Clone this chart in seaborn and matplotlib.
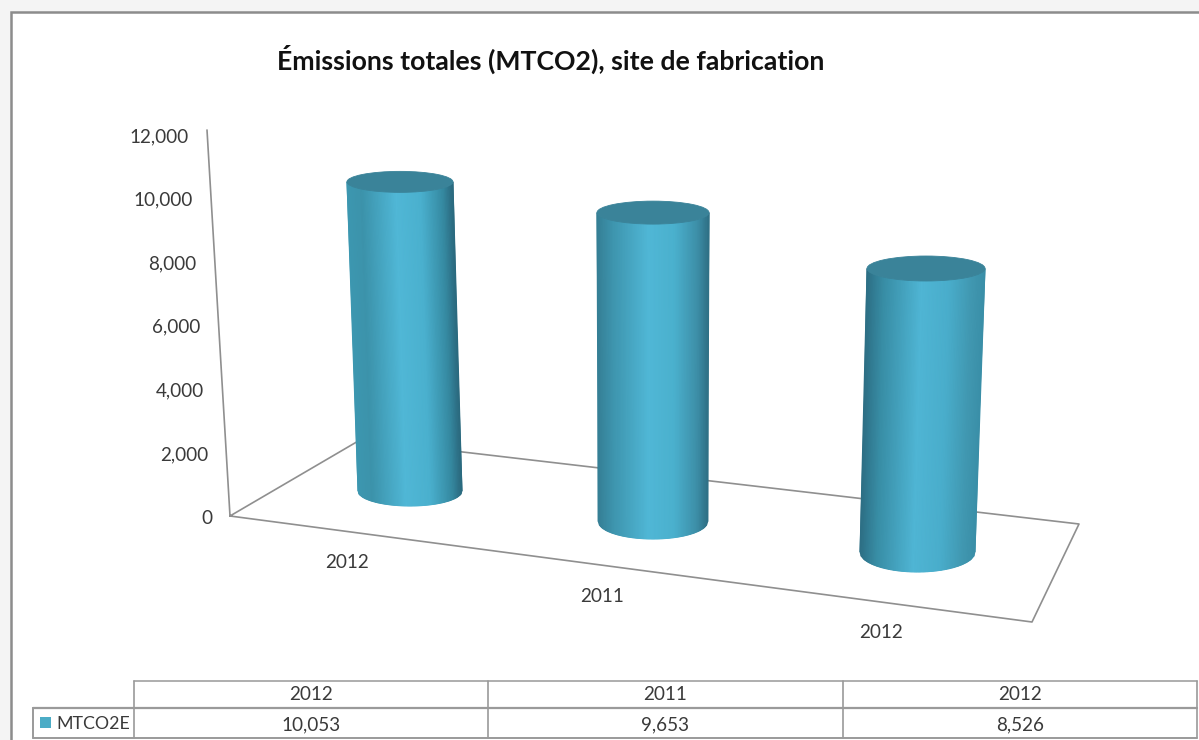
import numpy as np
import pandas as pd
import seaborn as sns
import matplotlib.pyplot as plt
from matplotlib.colors import LinearSegmentedColormap
from matplotlib.patches import Ellipse, Rectangle

plt.switch_backend('Agg')

# values
categories = ["2012", "2011", "2012"]
series_name = "MTCO2E"
values = [10053, 9653, 8526]
y_ticks = [0, 2000, 4000, 6000, 8000, 10000, 12000]
title = "Émissions totales (MTCO2), site de fabrication"

sns.set_theme(style="white")
plt.rcParams['font.family'] = ['Lato', 'DejaVu Sans']

TEXT = "#3a3a3a"
LINE = "#8f8f8f"


# fake 3D: category position and value -> picture pixels
def base_point(u):
    return np.array([410 + 232.25 * u + 10.75 * u * u, 491 + 30.5 * u])


def project(u, v):
    bx, by = base_point(u)
    return bx + 0.001 * (u - 1) * v, by - (0.03075 + 0.00125 * u) * v


def wall_point(v):
    t = v / 12000
    return 230 - 23 * t, 516 - 386 * t


fig = plt.figure(figsize=(11.99, 7.40), dpi=100)

# the bars come from seaborn on a hidden axes, then get redrawn as cylinders
ax_bar = fig.add_axes([0, 0, 1, 1])
df = pd.DataFrame({"pos": range(len(values)), "value": values})
sns.barplot(data=df, x="pos", y="value", width=0.8, ax=ax_bar)
bars = list(ax_bar.patches)
ax_bar.set_visible(False)

ax = fig.add_axes([0, 0, 1, 1])
ax.set_xlim(0, 1199)
ax.set_ylim(740, 0)
ax.axis("off")

# outer window shading and chart frame
fig.patch.set_facecolor("#f4f4f4")
ax.add_patch(Rectangle((11, 12), 1300, 800, fc="white", ec="#8c8c8c", lw=1.8, zorder=1))

# floor and wall
floor_x = [207, 230, 1032, 1079, 360, 230]
floor_y = [130, 516, 622, 524, 440, 516]
ax.plot(floor_x, floor_y, color=LINE, lw=1.2, zorder=2)

# value axis labels
for t in y_ticks:
    wx, wy = wall_point(t)
    ax.text(wx - 18, 516 - 63.6 * t / 2000 + 2, f"{t:,}", ha="right", va="center",
            fontsize=13.6, color=TEXT, zorder=3)

# category labels under the floor
label_x = [347, 602, 881]
label_y = [563, 597, 633]
for x, y, c in zip(label_x, label_y, categories):
    ax.text(x, y, c, ha="center", va="center", fontsize=13.6, color=TEXT, zorder=3)

# cylinders
stops = [0, 0.14, 0.46, 0.70, 0.90, 1]
shades = [
    ["#3c97b0", "#3c93ab", "#50b7d6", "#4ab0ce", "#368ba3", "#2b6a7f"],
    ["#357f95", "#3e95ae", "#50b7d6", "#4ab0cd", "#3d8fa8", "#2f7186"],
    ["#2d6f85", "#388da5", "#4fb5d4", "#49adcb", "#4097b0", "#3a8fa8"],
]
for bar, shade in zip(bars, shades):
    u = bar.get_x() + bar.get_width() / 2
    v = bar.get_height()
    half_w = (52 + 2.75 * u) * bar.get_width() / 0.8
    half_w_top = half_w + 1 + 0.25 * u
    ry_base = 15 + 2.5 * u
    ry_top = 10.5 + 1 * u
    bx, by = project(u, 0)
    tx, ty = project(u, v)

    t = np.linspace(-1, 1, 90)
    arc = np.sqrt(1 - t ** 2)
    xs = np.vstack([tx + half_w_top * t, bx + half_w * t])
    ys = np.vstack([ty + ry_top * arc, by + ry_base * arc])
    cmap = LinearSegmentedColormap.from_list("cyl", list(zip(stops, shade)))
    ax.pcolormesh(xs, ys, np.vstack([t, t]), cmap=cmap, vmin=-1, vmax=1,
                  shading="gouraud", zorder=4)
    ax.add_patch(Ellipse((tx, ty), 2 * half_w_top, 2 * ry_top, fc="#3a8399",
                         ec="#3a8399", lw=0.6, zorder=5))

ax.text(551, 59, title, ha="center", va="center", fontsize=19.2, fontweight="bold",
        color="#111111", zorder=6)

# data table under the chart
col_x = [134, 488, 843, 1197]
row_y = [681, 708, 738]
ax.plot([134, 1197], [row_y[0], row_y[0]], color="#a8a8a8", lw=1.3, zorder=2)
ax.plot([33, 1197], [row_y[1], row_y[1]], color="#9a9a9a", lw=1.6, zorder=2)
ax.plot([33, 1197], [row_y[2], row_y[2]], color="#9a9a9a", lw=1.4, zorder=2)
ax.plot([33, 33], [row_y[1], row_y[2]], color="#9a9a9a", lw=1.4, zorder=2)
for x in col_x:
    ax.plot([x, x], [row_y[0], row_y[2]], color="#9a9a9a", lw=1.2, zorder=2)
for i, (c, v) in enumerate(zip(categories, values)):
    xc = (col_x[i] + col_x[i + 1]) / 2
    ax.text(xc, 695, c, ha="center", va="center", fontsize=13.6, color=TEXT, zorder=3)
    ax.text(xc, 725, f"{v:,}", ha="center", va="center", fontsize=13.6, color=TEXT, zorder=3)
ax.add_patch(Rectangle((40, 717), 11, 11, fc="#4bacc6", ec="none", zorder=3))
ax.text(56, 724, series_name, ha="left", va="center", fontsize=12.8, color=TEXT, zorder=3)

fig.savefig("out.png", dpi=100, facecolor=fig.get_facecolor())
plt.close()
